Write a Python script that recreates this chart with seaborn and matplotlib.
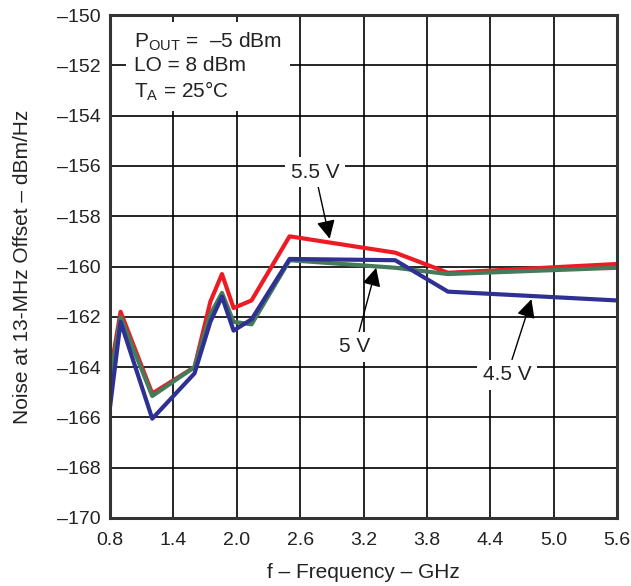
import matplotlib
matplotlib.use("Agg")
import matplotlib.pyplot as plt
import matplotlib.ticker as mticker
import numpy as np
import pandas as pd
import seaborn as sns

# ---- data ----
freq = [0.8, 0.9, 1.2, 1.6, 1.75, 1.86, 1.97, 2.14, 2.5, 3.5, 4.0, 5.6]
v55 = [-164.3, -161.8, -165.05, -164.0, -161.4, -160.3, -161.65, -161.35, -158.8, -159.45, -160.25, -159.9]
v50 = [-164.6, -162.0, -165.15, -164.0, -161.9, -161.05, -162.2, -162.3, -159.75, -160.05, -160.3, -160.05]
v45 = [-165.6, -162.2, -166.05, -164.25, -162.2, -161.2, -162.55, -162.1, -159.7, -159.75, -161.0, -161.35]
series_names = ["5.5 V", "5 V", "4.5 V"]
xticks = [0.8, 1.4, 2.0, 2.6, 3.2, 3.8, 4.4, 5.0, 5.6]
yticks = list(range(-170, -149, 2))

df = pd.concat([
    pd.DataFrame({"f": freq, "noise": v, "supply": n})
    for v, n in zip([v55, v50, v45], series_names)
])

sns.set_style("white")
plt.rcParams["font.family"] = ["Liberation Sans", "DejaVu Sans"]
plt.rcParams["mathtext.fontset"] = "custom"
plt.rcParams["mathtext.rm"] = "Liberation Sans"

fig = plt.figure(figsize=(6.31, 5.86), dpi=100)
ax = fig.add_axes([110 / 631, 1 - 518 / 586, (617 - 110) / 631, (518 - 15) / 586])

palette = {"5.5 V": "#ED1C24", "5 V": "#457A5A", "4.5 V": "#2E3192"}
sns.lineplot(data=df, x="f", y="noise", hue="supply", palette=palette,
             hue_order=series_names, linewidth=3.0, ax=ax, legend=False,
             sort=False, estimator=None)

ax.set_xlim(0.8, 5.6)
ax.set_ylim(-170, -150)
ax.set_xticks(xticks)
ax.set_yticks(yticks)
ax.xaxis.set_major_formatter(mticker.FuncFormatter(lambda v, p: f"{v:.1f}"))
ax.yaxis.set_major_formatter(mticker.FuncFormatter(
    lambda v, p: ("\u2013" if v < 0 else "") + f"{abs(int(round(v)))}"))
ax.grid(True, color="black", linewidth=1.2)
ax.set_axisbelow(True)
ax.tick_params(axis="both", length=0, labelsize=14, colors="#222222")
ax.tick_params(axis="x", pad=10)
ax.tick_params(axis="y", pad=7)
for s in ax.spines.values():
    s.set_linewidth(2.2)
    s.set_color("#333333")

ax.set_xlabel("f \u2013 Frequency \u2013 GHz", fontsize=15, color="#222222")
ax.set_ylabel("Noise at 13-MHz Offset \u2013 dBm/Hz", fontsize=15, color="#222222")
ax.xaxis.set_label_coords(0.5, -(573 - 518) / 503, transform=ax.transAxes)
ax.yaxis.set_label_coords(-(110 - 22) / 507, 0.5, transform=ax.transAxes)
ax.xaxis.label.set_va("center")
ax.yaxis.label.set_va("center")

ax.text(1.03, -150.6,
        "P$_\\mathregular{OUT}$ =  \u20135 dBm\nLO = 8 dBm\nT$_\\mathregular{A}$ = 25\u00b0C",
        fontsize=15, va="top", ha="left", linespacing=1.22, color="#222222",
        bbox=dict(fc="white", ec="none", pad=6), zorder=5)

ann = [
    ("5.5 V", (2.88, -158.9), (2.74, -156.25)),
    ("5 V", (3.32, -160.05), (3.12, -163.2)),
    ("4.5 V", (4.79, -161.3), (4.56, -164.3)),
]
for label, tip, txt in ann:
    ax.annotate(label, xy=tip, xytext=txt, fontsize=15, ha="center", va="center",
                color="#222222",
                bbox=dict(fc="white", ec="none", pad=4),
                arrowprops=dict(arrowstyle="-|>", color="black", lw=1.0,
                                mutation_scale=28, shrinkA=0, shrinkB=0),
                zorder=6)

fig.savefig("out.png", dpi=100)
